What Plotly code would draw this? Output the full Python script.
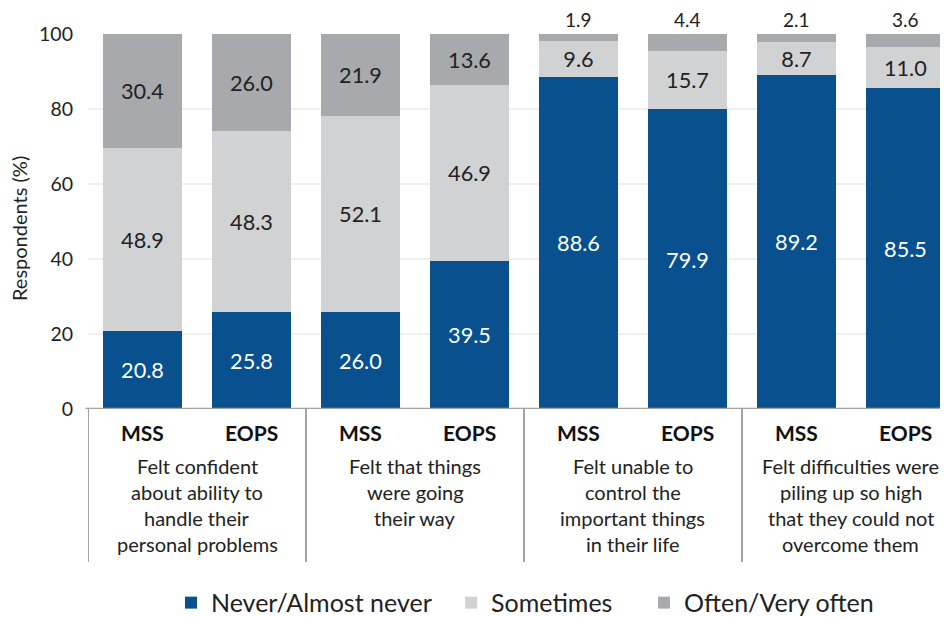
import plotly.graph_objects as go

FONT = "Lato"
BLUE = "#08508E"
LIGHT_GRAY = "#D1D2D4"
DARK_GRAY = "#A8A9AC"
LINE_GRAY = "#A3A3A3"

bar_labels = ["MSS", "EOPS", "MSS", "EOPS", "MSS", "EOPS", "MSS", "EOPS"]
group_labels = [
    ["Felt confident", "about ability to", "handle their", "personal problems"],
    ["Felt that things", "were going", "their way"],
    ["Felt unable to", "control the", "important things", "in their life"],
    ["Felt difficulties were", "piling up so high", "that they could not", "overcome them"],
]
never = [20.8, 25.8, 26.0, 39.5, 88.6, 79.9, 89.2, 85.5]
sometimes = [48.9, 48.3, 52.1, 46.9, 9.6, 15.7, 8.7, 11.0]
often = [30.4, 26.0, 21.9, 13.6, 1.9, 4.4, 2.1, 3.6]

SMALL = 5  # values below this get their label above the bar
positions = list(range(len(bar_labels)))


def inside_text(values):
    return [f"{v:.1f}" if v >= SMALL else "" for v in values]


fig = go.Figure()
# each series gets its own legend so the entries can be spaced like the original
series = [
    ("Never/Almost never", never, BLUE, "white", "legend", 0.0965),
    ("Sometimes", sometimes, LIGHT_GRAY, "#222222", "legend2", 0.4222),
    ("Often/Very often", often, DARK_GRAY, "#222222", "legend3", 0.6465),
]
legends = {}
for name, values, color, text_color, legend_id, legend_x in series:
    fig.add_trace(
        go.Bar(
            x=positions,
            y=values,
            name=name,
            legend=legend_id,
            showlegend=True,
            marker=dict(color=color, line=dict(width=0)),
            width=0.725,
            text=inside_text(values),
            textposition="inside",
            insidetextanchor="middle",
            textangle=0,
            insidetextfont=dict(family=FONT, size=22, color=text_color),
            hoverinfo="skip",
        )
    )
    legends[legend_id] = dict(
        orientation="h", x=legend_x, xanchor="left", y=-0.517, yanchor="middle",
        font=dict(family=FONT, size=25, color="#222222"), itemwidth=30,
        bgcolor="rgba(0,0,0,0)",
    )

annotations = []
# small top values above the bars
for x, v in zip(positions, often):
    if v < SMALL:
        annotations.append(
            dict(x=x, y=100, xref="x", yref="y", text=f"{v:.1f}", showarrow=False,
                 yanchor="middle", yshift=15, font=dict(family=FONT, size=19, color="#222222"))
        )

# MSS / EOPS labels
for x, lab in zip(positions, bar_labels):
    annotations.append(
        dict(x=x, y=0, xref="x", yref="paper", text=f"<b>{lab}</b>", showarrow=False,
             yanchor="middle", yshift=-23, font=dict(family=FONT, size=21, color="#111111"))
    )

# group descriptions, one annotation per line
for g, lines in enumerate(group_labels):
    for i, line in enumerate(lines):
        annotations.append(
            dict(x=2 * g + 0.5, y=0, xref="x", yref="paper", text=line, showarrow=False,
                 yanchor="middle", yshift=-57 - 26 * i,
                 font=dict(family=FONT, size=20, color="#222222"))
        )

annotations.append(
    dict(x=-0.0802, y=0.48, xref="paper", yref="paper", text="Respondents (%)", showarrow=False,
         textangle=-90, xanchor="center", yanchor="middle",
         font=dict(family=FONT, size=20, color="#222222"))
)

shapes = [
    dict(type="line", xref="paper", yref="y", x0=-0.003, x1=1, y0=0, y1=0,
         line=dict(color=LINE_GRAY, width=2.5))
]
for g in range(len(group_labels)):
    shapes.append(
        dict(type="line", xref="x", yref="paper", x0=2 * g - 0.5, x1=2 * g - 0.5, y0=0, y1=-0.408,
             line=dict(color=LINE_GRAY, width=2))
    )

# page body has an 8px margin, so the figure is 8px smaller than the window
fig.update_layout(
    barmode="stack",
    width=940,
    height=609,
    showlegend=True,
    margin=dict(l=80, r=0, t=26, b=208, autoexpand=False),
    plot_bgcolor="white",
    paper_bgcolor="white",
    font=dict(family=FONT, size=17, color="#222222"),
    xaxis=dict(range=[-0.5, 7.39], showticklabels=False, showgrid=False, zeroline=False,
               fixedrange=True, automargin=False),
    yaxis=dict(range=[0, 100], tickvals=[0, 20, 40, 60, 80, 100], showgrid=True,
               gridcolor="#F0F0F0", gridwidth=2, zeroline=False, ticks="", ticklabelstandoff=14,
               automargin=False, tickfont=dict(family=FONT, size=19.5, color="#222222")),
    annotations=annotations,
    shapes=shapes,
    uniformtext=dict(minsize=10, mode="show"),
    **legends,
)

fig.write_html("out.html")
